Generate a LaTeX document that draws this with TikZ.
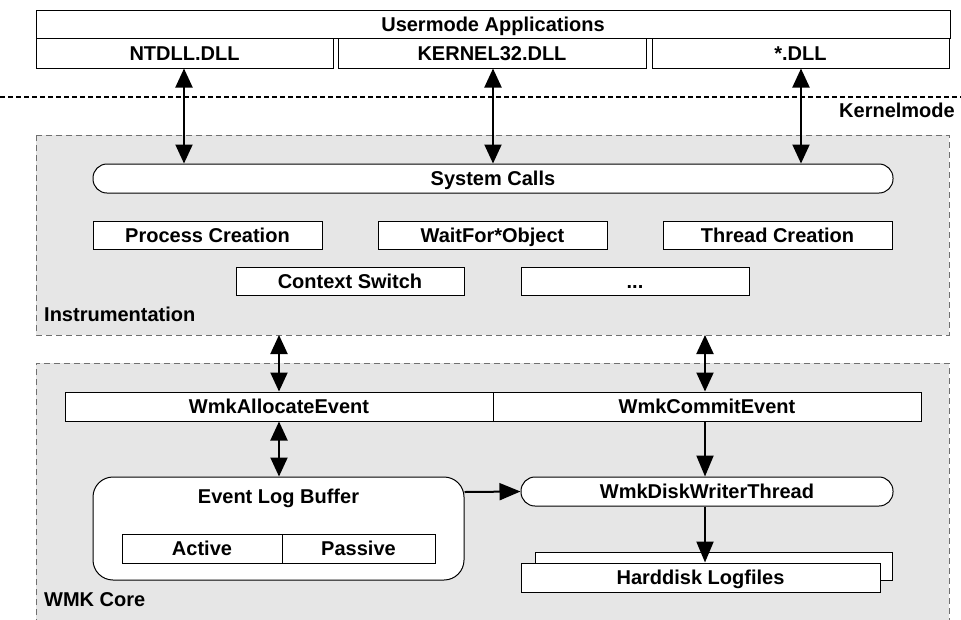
\documentclass[tikz,border=0pt]{standalone}
\usepackage{fontspec}
\setmainfont{Liberation Sans}
\usetikzlibrary{arrows.meta}
\definecolor{panelfill}{HTML}{E6E6E6}
\definecolor{paneledge}{HTML}{707070}
\tikzset{
  lbl/.style={font=\fontsize{20}{22}\selectfont\bfseries, inner sep=0pt},
  box/.style={draw=black, line width=1pt, fill=white, lbl, rectangle, text height=14pt, text depth=0pt},
  pill/.style={box, rounded corners=14pt},
  panel/.style={draw=paneledge, fill=panelfill, line width=1pt, dash pattern=on 6pt off 4pt},
  arr/.style={line width=2pt, -{Triangle[width=17pt,length=21pt]}},
  darr/.style={line width=2pt, {Triangle[width=17pt,length=19pt]}-{Triangle[width=17pt,length=19pt]}},
}
\begin{document}
\begin{tikzpicture}[x=1pt,y=-1pt]
\useasboundingbox (0,0) rectangle (961,619);
\fill[white] (0,0) rectangle (961,619);
% panels
\draw[panel] (36,135) rectangle (949,335);
\draw[panel] (36,625) -- (36,363) -- (949,363) -- (949,625);
% user mode
\node[box, minimum width=914pt, minimum height=28pt] (apps) at (493,24) {Usermode Applications};
\node[box, minimum width=297pt, minimum height=30pt] (ntdll) at (184.5,53) {NTDLL.DLL};
\node[box, minimum width=308pt, minimum height=30pt] (k32) at (492,53) {KERNEL32.DLL};
\node[box, minimum width=297pt, minimum height=30pt] (dll) at (800.5,53) {*.DLL};
% kernel mode line
\coordinate (kl) at (0,97);
\coordinate (kr) at (961,97);
\draw[line width=2pt, dash pattern=on 5pt off 3pt] (kl) -- (kr);
\node[lbl, anchor=east] (km) at (955,110) {Kernelmode};
% instrumentation
\node[pill, minimum width=800pt, minimum height=29pt] (sys) at (493,178.5) {System Calls};
\node[box, minimum width=229pt, minimum height=28pt] (pc) at (207.5,235) {Process Creation};
\node[box, minimum width=229pt, minimum height=28pt] (wf) at (492.5,235) {WaitFor*Object};
\node[box, minimum width=229pt, minimum height=28pt] (tc) at (777.5,235) {Thread Creation};
\node[box, minimum width=228pt, minimum height=28pt] (cs) at (350,281) {Context Switch};
\node[box, minimum width=228pt, minimum height=28pt] (dots) at (635,281) {...};
\node[lbl, anchor=west] (instr) at (44,314) {Instrumentation};
% wmk core
\node[box, minimum width=428pt, minimum height=29pt] (alloc) at (279,406.5) {WmkAllocateEvent};
\node[box, minimum width=428pt, minimum height=29pt] (commit) at (707,406.5) {WmkCommitEvent};
\node[box, rounded corners=20pt, minimum width=371pt, minimum height=103pt] (elb) at (278.5,528.5) {};
\node[lbl] (elbt) at (278.5,498) {Event Log Buffer};
\node[box, minimum width=160pt, minimum height=29pt] (act) at (202,548.5) {Active};
\node[box, minimum width=153pt, minimum height=29pt] (pas) at (358.5,548.5) {Passive};
\node[pill, minimum width=372pt, minimum height=29pt] (dwt) at (707,491.5) {WmkDiskWriterThread};
\node[box, minimum width=357pt, minimum height=28pt] (hdback) at (713.5,566) {};
\node[box, minimum width=359pt, minimum height=29pt] (hd) at (700.5,577.5) {Harddisk Logfiles};
\node[lbl, anchor=west] (wmk) at (44,600) {WMK Core};
% arrows
\draw[darr] (ntdll.south -| 184,0) -- (sys.north -| 184,0);
\draw[darr] (k32.south -| 493,0) -- (sys.north -| 493,0);
\draw[darr] (dll.south -| 801,0) -- (sys.north -| 801,0);
\draw[darr] (279,335) -- (alloc.north -| 279,0);
\draw[darr] (705,335) -- (commit.north -| 705,0);
\draw[darr] (alloc.south -| 279,0) -- (elb.north -| 279,0);
\draw[arr] (commit.south -| 705,0) -- (dwt.north -| 705,0);
\draw[arr] (dwt.south -| 705,0) -- (hd.north -| 705,0);
\draw[arr] (elb.east |- 0,492) -- (dwt.west);
\end{tikzpicture}
\end{document}
